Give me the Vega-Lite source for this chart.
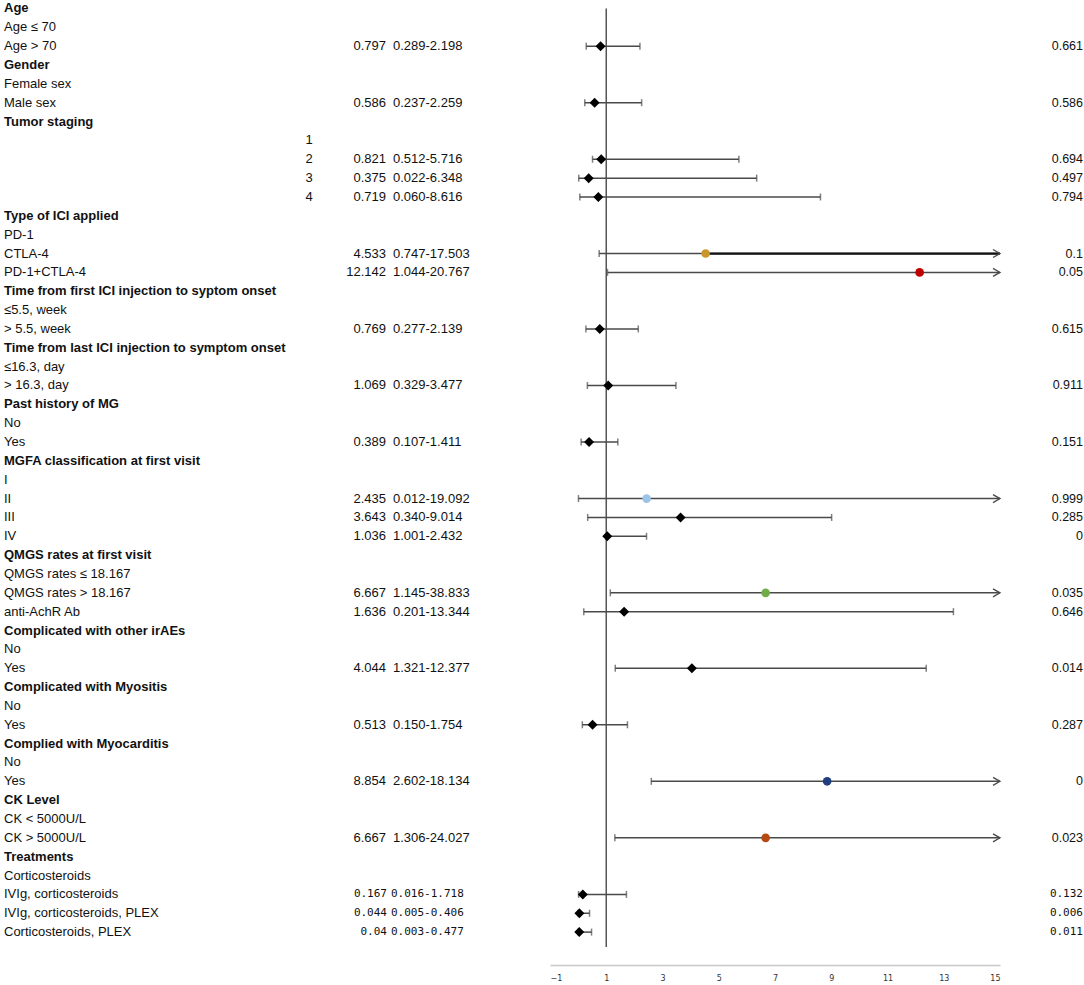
{
  "$schema": "https://vega.github.io/schema/vega-lite/v6.json",
  "padding": 0,
  "spacing": 0,
  "background": "white",
  "config": {"view": {"stroke": null}, "text": {"font": "Liberation Sans", "fontSize": 13, "color": "#111"}},
  "datasets": {
    "rows": [
      {"row": 0, "label": "Age", "type": "h"},
      {"row": 1, "label": "Age ≤ 70", "type": "i"},
      {"row": 2, "label": "Age > 70", "type": "i", "orText": "0.797", "ciText": "0.289-2.198", "p": "0.661", "or": 0.797, "lo": 0.289, "hi": 2.198, "marker": "default"},
      {"row": 3, "label": "Gender", "type": "h"},
      {"row": 4, "label": "Female sex", "type": "i"},
      {"row": 5, "label": "Male sex", "type": "i", "orText": "0.586", "ciText": "0.237-2.259", "p": "0.586", "or": 0.586, "lo": 0.237, "hi": 2.259, "marker": "default"},
      {"row": 6, "label": "Tumor staging", "type": "h"},
      {"row": 7, "label": "", "stage": "1", "type": "i"},
      {"row": 8, "label": "", "stage": "2", "type": "i", "orText": "0.821", "ciText": "0.512-5.716", "p": "0.694", "or": 0.821, "lo": 0.512, "hi": 5.716, "marker": "default"},
      {"row": 9, "label": "", "stage": "3", "type": "i", "orText": "0.375", "ciText": "0.022-6.348", "p": "0.497", "or": 0.375, "lo": 0.022, "hi": 6.348, "marker": "default"},
      {"row": 10, "label": "", "stage": "4", "type": "i", "orText": "0.719", "ciText": "0.060-8.616", "p": "0.794", "or": 0.719, "lo": 0.06, "hi": 8.616, "marker": "default"},
      {"row": 11, "label": "Type of ICI applied", "type": "h"},
      {"row": 12, "label": "PD-1", "type": "i"},
      {"row": 13, "label": "CTLA-4", "type": "i", "orText": "4.533", "ciText": "0.747-17.503", "p": "0.1", "or": 4.533, "lo": 0.747, "hi": 17.503, "marker": "CTLA-4"},
      {"row": 14, "label": "PD-1+CTLA-4", "type": "i", "orText": "12.142", "ciText": "1.044-20.767", "p": "0.05", "or": 12.142, "lo": 1.044, "hi": 20.767, "marker": "PD-1+CTLA-4"},
      {"row": 15, "label": "Time from first ICI injection to syptom onset", "type": "h"},
      {"row": 16, "label": "≤5.5, week", "type": "i"},
      {"row": 17, "label": "> 5.5, week", "type": "i", "orText": "0.769", "ciText": "0.277-2.139", "p": "0.615", "or": 0.769, "lo": 0.277, "hi": 2.139, "marker": "default"},
      {"row": 18, "label": "Time from last ICI injection to symptom onset", "type": "h"},
      {"row": 19, "label": "≤16.3, day", "type": "i"},
      {"row": 20, "label": "> 16.3, day", "type": "i", "orText": "1.069", "ciText": "0.329-3.477", "p": "0.911", "or": 1.069, "lo": 0.329, "hi": 3.477, "marker": "default"},
      {"row": 21, "label": "Past history of MG", "type": "h"},
      {"row": 22, "label": "No", "type": "i"},
      {"row": 23, "label": "Yes", "type": "i", "orText": "0.389", "ciText": "0.107-1.411", "p": "0.151", "or": 0.389, "lo": 0.107, "hi": 1.411, "marker": "default"},
      {"row": 24, "label": "MGFA classification at first visit", "type": "h"},
      {"row": 25, "label": "I", "type": "i"},
      {"row": 26, "label": "II", "type": "i", "orText": "2.435", "ciText": "0.012-19.092", "p": "0.999", "or": 2.435, "lo": 0.012, "hi": 19.092, "marker": "MGFA II"},
      {"row": 27, "label": "III", "type": "i", "orText": "3.643", "ciText": "0.340-9.014", "p": "0.285", "or": 3.643, "lo": 0.34, "hi": 9.014, "marker": "default"},
      {"row": 28, "label": "IV", "type": "i", "orText": "1.036", "ciText": "1.001-2.432", "p": "0", "or": 1.036, "lo": 1.001, "hi": 2.432, "marker": "default"},
      {"row": 29, "label": "QMGS rates at first visit", "type": "h"},
      {"row": 30, "label": "QMGS rates ≤ 18.167", "type": "i"},
      {"row": 31, "label": "QMGS rates > 18.167", "type": "i", "orText": "6.667", "ciText": "1.145-38.833", "p": "0.035", "or": 6.667, "lo": 1.145, "hi": 38.833, "marker": "QMGS high"},
      {"row": 32, "label": "anti-AchR Ab", "type": "i", "orText": "1.636", "ciText": "0.201-13.344", "p": "0.646", "or": 1.636, "lo": 0.201, "hi": 13.344, "marker": "default"},
      {"row": 33, "label": "Complicated with other irAEs", "type": "h"},
      {"row": 34, "label": "No", "type": "i"},
      {"row": 35, "label": "Yes", "type": "i", "orText": "4.044", "ciText": "1.321-12.377", "p": "0.014", "or": 4.044, "lo": 1.321, "hi": 12.377, "marker": "default"},
      {"row": 36, "label": "Complicated with Myositis", "type": "h"},
      {"row": 37, "label": "No", "type": "i"},
      {"row": 38, "label": "Yes", "type": "i", "orText": "0.513", "ciText": "0.150-1.754", "p": "0.287", "or": 0.513, "lo": 0.15, "hi": 1.754, "marker": "default"},
      {"row": 39, "label": "Complied with Myocarditis", "type": "h"},
      {"row": 40, "label": "No", "type": "i"},
      {"row": 41, "label": "Yes", "type": "i", "orText": "8.854", "ciText": "2.602-18.134", "p": "0", "or": 8.854, "lo": 2.602, "hi": 18.134, "marker": "Myocarditis"},
      {"row": 42, "label": "CK Level", "type": "h"},
      {"row": 43, "label": "CK < 5000U/L", "type": "i"},
      {"row": 44, "label": "CK > 5000U/L", "type": "i", "orText": "6.667", "ciText": "1.306-24.027", "p": "0.023", "or": 6.667, "lo": 1.306, "hi": 24.027, "marker": "CK high"},
      {"row": 45, "label": "Treatments", "type": "h"},
      {"row": 46, "label": "Corticosteroids", "type": "i"},
      {"row": 47, "label": "IVIg, corticosteroids", "type": "i", "mono": true, "orText": "0.167", "ciText": "0.016-1.718", "p": "0.132", "or": 0.167, "lo": 0.016, "hi": 1.718, "marker": "default"},
      {"row": 48, "label": "IVIg, corticosteroids, PLEX", "type": "i", "mono": true, "orText": "0.044", "ciText": "0.005-0.406", "p": "0.006", "or": 0.044, "lo": 0.005, "hi": 0.406, "marker": "default"},
      {"row": 49, "label": "Corticosteroids, PLEX", "type": "i", "mono": true, "orText": "0.04", "ciText": "0.003-0.477", "p": "0.011", "or": 0.04, "lo": 0.003, "hi": 0.477, "marker": "default"}
    ],
    "refline": [{"ref": 1, "top": 0, "bottom": 49.79}]
  },
  "hconcat": [
    {
      "width": 550,
      "height": 947,
      "data": {"name": "rows"},
      "encoding": {
        "y": {"field": "row", "type": "quantitative", "scale": {"domain": [-0.45, 49.79], "reverse": true, "nice": false, "zero": false}, "axis": null}
      },
      "layer": [
        {
          "transform": [{"filter": "datum.type === 'h'"}],
          "mark": {"type": "text", "align": "left", "baseline": "middle", "fontWeight": "bold"},
          "encoding": {"x": {"value": 4}, "text": {"field": "label"}}
        },
        {
          "transform": [{"filter": "datum.type === 'i'"}],
          "mark": {"type": "text", "align": "left", "baseline": "middle"},
          "encoding": {"x": {"value": 4}, "text": {"field": "label"}}
        },
        {
          "transform": [{"filter": "isValid(datum.stage)"}],
          "mark": {"type": "text", "align": "center", "baseline": "middle"},
          "encoding": {"x": {"value": 309}, "text": {"field": "stage"}}
        },
        {
          "transform": [{"filter": "isValid(datum.orText) && !datum.mono"}],
          "mark": {"type": "text", "align": "right", "baseline": "middle"},
          "encoding": {"x": {"value": 386}, "text": {"field": "orText"}}
        },
        {
          "transform": [{"filter": "isValid(datum.ciText) && !datum.mono"}],
          "mark": {"type": "text", "align": "left", "baseline": "middle"},
          "encoding": {"x": {"value": 393}, "text": {"field": "ciText"}}
        },
        {
          "transform": [{"filter": "datum.mono === true"}],
          "mark": {"type": "text", "align": "right", "baseline": "middle", "font": "DejaVu Sans Mono", "fontSize": 11},
          "encoding": {"x": {"value": 387}, "text": {"field": "orText"}}
        },
        {
          "transform": [{"filter": "datum.mono === true"}],
          "mark": {"type": "text", "align": "left", "baseline": "middle", "font": "DejaVu Sans Mono", "fontSize": 11},
          "encoding": {"x": {"value": 391}, "text": {"field": "ciText"}}
        }
      ]
    },
    {
      "width": 450,
      "height": 947,
      "layer": [
        {
          "data": {"name": "refline"},
          "mark": {"type": "rule", "color": "#555555", "strokeWidth": 1.5},
          "encoding": {
            "x": {"field": "ref", "type": "quantitative", "scale": {"domain": [-1, 15], "nice": false, "zero": false, "clamp": true},
              "axis": {"values": [-1, 1, 3, 5, 7, 9, 11, 13, 15], "orient": "bottom", "offset": 18, "ticks": false, "tickSize": 0, "grid": false, "domainColor": "#c8c8c8", "domainWidth": 1.5, "labelFontSize": 8, "labelColor": "#333333", "labelPadding": 9, "labelFont": "DejaVu Sans", "title": null}},
            "y": {"field": "top", "type": "quantitative", "scale": {"domain": [-0.45, 49.79], "reverse": true, "nice": false, "zero": false}, "axis": null},
            "y2": {"field": "bottom"}
          }
        },
        {
          "data": {"name": "rows"},
          "transform": [{"filter": "isValid(datum.or)"}],
          "layer": [
            {
              "mark": {"type": "rule", "color": "#4a4a4a", "strokeWidth": 1.5},
              "encoding": {
                "x": {"field": "lo", "type": "quantitative"},
                "x2": {"field": "hi"},
                "y": {"field": "row", "type": "quantitative"}
              }
            },
            {
              "transform": [{"filter": "datum.marker === 'CTLA-4'"}],
              "mark": {"type": "rule", "color": "#111111", "strokeWidth": 2.2},
              "encoding": {
                "x": {"field": "or", "type": "quantitative"},
                "x2": {"field": "hi"},
                "y": {"field": "row", "type": "quantitative"}
              }
            },
            {
              "mark": {"type": "tick", "orient": "vertical", "color": "#4a4a4a", "size": 7, "thickness": 1.5},
              "encoding": {
                "x": {"field": "lo", "type": "quantitative"},
                "y": {"field": "row", "type": "quantitative"}
              }
            },
            {
              "transform": [{"filter": "datum.hi <= 15"}],
              "mark": {"type": "tick", "orient": "vertical", "color": "#4a4a4a", "size": 7, "thickness": 1.5},
              "encoding": {
                "x": {"field": "hi", "type": "quantitative"},
                "y": {"field": "row", "type": "quantitative"}
              }
            },
            {
              "transform": [{"filter": "datum.hi > 15"}],
              "mark": {"type": "point", "shape": "M-1.4,-0.8L0,0L-1.4,0.8", "filled": false, "stroke": "#4a4a4a", "strokeWidth": 1.3, "size": 100, "opacity": 1},
              "encoding": {
                "x": {"field": "hi", "type": "quantitative"},
                "y": {"field": "row", "type": "quantitative"}
              }
            },
            {
              "transform": [{"filter": "datum.marker === 'default'"}],
              "mark": {"type": "point", "shape": "diamond", "filled": true, "color": "#000000", "size": 100, "opacity": 1},
              "encoding": {
                "x": {"field": "or", "type": "quantitative"},
                "y": {"field": "row", "type": "quantitative"}
              }
            },
            {
              "transform": [{"filter": "datum.marker !== 'default'"}],
              "mark": {"type": "point", "shape": "circle", "filled": true, "size": 75, "opacity": 1},
              "encoding": {
                "x": {"field": "or", "type": "quantitative"},
                "y": {"field": "row", "type": "quantitative"},
                "color": {"field": "marker", "type": "nominal", "legend": null,
                  "scale": {"domain": ["CTLA-4", "PD-1+CTLA-4", "MGFA II", "QMGS high", "Myocarditis", "CK high"],
                            "range": ["#C9962B", "#C00000", "#9DC3E6", "#70AD47", "#1F3F7F", "#B34A12"]}}
              }
            }
          ]
        }
      ]
    },
    {
      "width": 84,
      "height": 947,
      "data": {"name": "rows"},
      "transform": [{"filter": "isValid(datum.p)"}],
      "layer": [
        {
          "transform": [{"filter": "!datum.mono"}],
          "mark": {"type": "text", "align": "right", "baseline": "middle", "fontSize": 12.5},
          "encoding": {
            "x": {"value": 80},
            "y": {"field": "row", "type": "quantitative", "scale": {"domain": [-0.45, 49.79], "reverse": true, "nice": false, "zero": false}, "axis": null},
            "text": {"field": "p"}
          }
        },
        {
          "transform": [{"filter": "datum.mono === true"}],
          "mark": {"type": "text", "align": "right", "baseline": "middle", "font": "DejaVu Sans Mono", "fontSize": 11},
          "encoding": {
            "x": {"value": 80},
            "y": {"field": "row", "type": "quantitative"},
            "text": {"field": "p"}
          }
        }
      ]
    }
  ]
}
